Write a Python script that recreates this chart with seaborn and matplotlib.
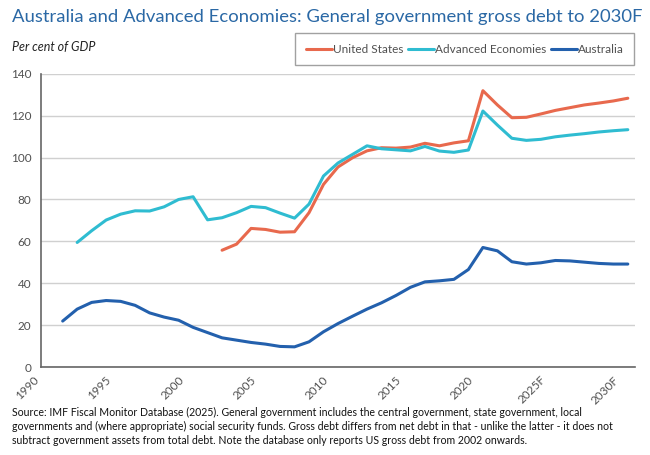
import numpy as np
import pandas as pd
import seaborn as sns
import matplotlib.pyplot as plt

# General government gross debt, per cent of GDP
years_au = list(range(1991, 2031))
australia = [22.0, 27.7, 30.9, 31.8, 31.4, 29.5, 25.9, 23.9, 22.4, 19.0,
             16.5, 14.0, 12.9, 11.8, 11.0, 9.9, 9.7, 12.1, 16.9, 20.8,
             24.3, 27.7, 30.7, 34.2, 38.1, 40.7, 41.2, 41.9, 46.6, 57.1,
             55.5, 50.3, 49.2, 49.8, 50.9, 50.7, 50.1, 49.5, 49.2, 49.2]

years_ae = list(range(1992, 2031))
advanced = [59.5, 65.1, 70.2, 73.0, 74.6, 74.5, 76.5, 80.0, 81.3, 70.3,
            71.3, 73.7, 76.7, 76.1, 73.5, 71.1, 77.8, 91.2, 97.4, 101.5,
            105.6, 104.2, 103.7, 103.2, 105.3, 103.1, 102.5, 103.6, 122.2, 115.5,
            109.2, 108.2, 108.7, 109.9, 110.7, 111.4, 112.2, 112.8, 113.3]

years_us = list(range(2002, 2031))
united_states = [55.8, 58.7, 66.2, 65.7, 64.4, 64.6, 73.7, 87.2, 95.5, 99.9,
                 103.2, 104.7, 104.5, 105.0, 106.8, 105.6, 107.0, 108.0, 131.9, 125.1,
                 119.0, 119.2, 120.8, 122.5, 123.8, 125.1, 126.0, 127.0, 128.3]

tick_years = [1990, 1995, 2000, 2005, 2010, 2015, 2020, 2025, 2030]
tick_labels = ["1990", "1995", "2000", "2005", "2010", "2015", "2020", "2025F", "2030F"]

series_names = ["United States", "Advanced Economies", "Australia"]
colors = {"United States": "#e8694d", "Advanced Economies": "#2fbcd1", "Australia": "#2360ad"}

df = pd.concat([
    pd.DataFrame({"Year": years_us, "Debt": united_states, "Series": "United States"}),
    pd.DataFrame({"Year": years_ae, "Debt": advanced, "Series": "Advanced Economies"}),
    pd.DataFrame({"Year": years_au, "Debt": australia, "Series": "Australia"}),
])
# category-style axis: each year sits in the middle of its slot
df["Pos"] = df["Year"] + 0.5

sns.set_style("white")
plt.rcParams["font.family"] = ["Lato", "DejaVu Sans"]

fig = plt.figure(figsize=(6.5, 4.55), dpi=100)
ax = fig.add_axes([0.063, 0.193, 0.914, 0.645])

sns.lineplot(data=df, x="Pos", y="Debt", hue="Series", hue_order=series_names,
             palette=colors, linewidth=2.2, ax=ax, legend=False)

ax.set_xlim(1990, 2031)
ax.set_ylim(0, 140)
ax.set_yticks(range(0, 141, 20))
ax.set_xticks(tick_years)
ax.set_xticklabels(tick_labels, rotation=45, ha="right", va="top")
ax.grid(axis="y", color="#d0d0d0", linewidth=1)
ax.set_axisbelow(True)
for side in ["top", "right"]:
    ax.spines[side].set_visible(False)
for side in ["left", "bottom"]:
    ax.spines[side].set_color("#666666")
    ax.spines[side].set_linewidth(1.2)
ax.tick_params(axis="both", colors="#666666", labelcolor="#505050", labelsize=8.5,
               length=4, width=1, direction="out", pad=3)
ax.tick_params(axis="x", pad=1)
ax.set_xlabel("")
ax.set_ylabel("")

handles = [plt.Line2D([], [], color=colors[n], linewidth=2.2) for n in series_names]
leg = fig.legend(handles, series_names, loc="center", ncol=3, mode="expand",
                 bbox_to_anchor=(0.445, 0.857, 0.54, 0.07), fontsize=8.5,
                 frameon=True, fancybox=False, edgecolor="#8a8a8a",
                 handlelength=2.2, handletextpad=0.1, columnspacing=1.0,
                 borderpad=0.9)
for t in leg.get_texts():
    t.set_color("#505050")
leg.get_frame().set_linewidth(1.0)

fig.text(0.018, 0.962, "Australia and Advanced Economies: General government gross debt to 2030F",
         fontsize=13.3, color="#2a68a5", va="center", ha="left")
fig.text(0.018, 0.897, "Per cent of GDP", fontsize=9, style="italic",
         color="#222222", va="center", ha="left")

footnote = ("Source: IMF Fiscal Monitor Database (2025). General government includes the central government, state government, local\n"
            "governments and (where appropriate) social security funds. Gross debt differs from net debt in that - unlike the latter - it does not\n"
            "subtract government assets from total debt. Note the database only reports US gross debt from 2002 onwards.")
fig.text(0.018, 0.062, footnote, fontsize=7.6, color="#111111", va="center", ha="left",
         linespacing=1.35)

fig.savefig("out.png", dpi=100)
